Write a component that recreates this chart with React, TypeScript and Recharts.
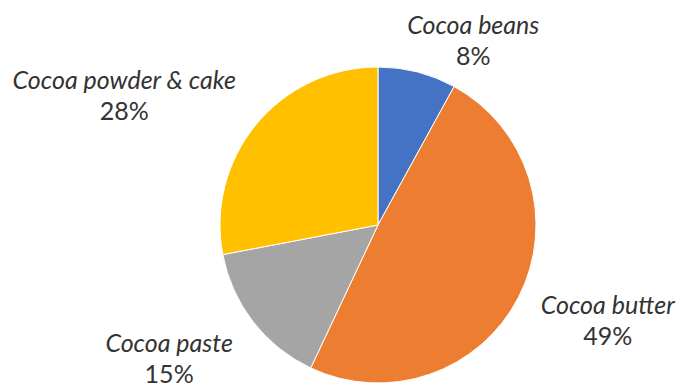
import React from 'react';
import { PieChart, Pie, Cell } from 'recharts';

const categories = ['Cocoa beans', 'Cocoa butter', 'Cocoa paste', 'Cocoa powder & cake'];
const shares = [8, 49, 15, 28];
const colors = ['#4472C4', '#ED7D31', '#A5A5A5', '#FFC000'];
// label nudge from the slice edge point, px
const labelOffsets: [number, number][] = [
  [56, -47],
  [89, 8],
  [-84, 21],
  [-132, -44],
];

const data = categories.map((name, i) => ({ name, value: shares[i] }));

const RADIAN = Math.PI / 180;

const renderLabel = (props: any) => {
  const { cx, cy, midAngle, outerRadius, index, value } = props;
  const ex = cx + outerRadius * Math.cos(-midAngle * RADIAN);
  const ey = cy + outerRadius * Math.sin(-midAngle * RADIAN);
  const [dx, dy] = labelOffsets[index];
  const x = ex + dx;
  const y = ey + dy;
  return (
    <text x={x} y={y} textAnchor="middle" fill="#333333" fontSize={25} fontFamily="Lato, sans-serif">
      <tspan x={x} y={y + 9} fontStyle="italic">{categories[index]}</tspan>
      <tspan x={x} y={y + 40}>{value}%</tspan>
    </text>
  );
};

const App: React.FC = () => {
  return (
    <div style={{ position: 'absolute', left: 0, top: 0, width: 678, height: 387, background: '#fff' }}>
      <style>{`.recharts-pie-sectors { filter: drop-shadow(0 0 3px rgba(0,0,0,0.25)); }`}</style>
      <PieChart width={678} height={387} margin={{ top: 0, right: 0, bottom: 0, left: 0 }}>
        <Pie
          data={data}
          dataKey="value"
          nameKey="name"
          cx={378}
          cy={225}
          outerRadius={158}
          startAngle={90}
          endAngle={-270}
          stroke="#fff"
          strokeWidth={1}
          label={renderLabel}
          labelLine={false}
          isAnimationActive={false}
        >
          {data.map((d, i) => (
            <Cell key={d.name} fill={colors[i]} />
          ))}
        </Pie>
      </PieChart>
    </div>
  );
};

export default App;
